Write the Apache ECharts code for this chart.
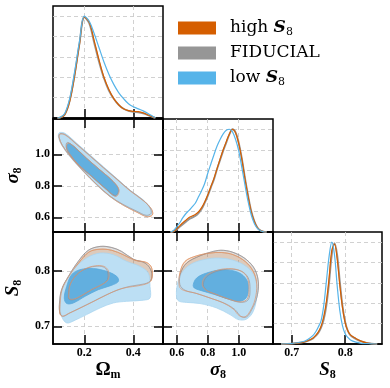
<!DOCTYPE html>
<html><head><meta charset="utf-8">
<script src="https://cdn.jsdelivr.net/npm/echarts@6/dist/echarts.min.js"></script>
<style>html,body{margin:0;padding:0;background:#fff}#c{width:390px;height:388px}</style>
</head><body><div id="c"></div>
<script>
// ---------------- DATA ----------------
const legendNames = ['high S8', 'FIDUCIAL', 'low S8'];
const omTicks = [0.2, 0.4];
const sigTicks = [0.6, 0.8, 1.0];
const s8Ticks = [0.7, 0.8];
const densTicks = [0.2, 0.4, 0.6, 0.8, 1.0];

const omGrid = [0.09,0.10,0.12,0.14,0.16,0.18,0.20,0.22,0.24,0.26,0.28,0.30,0.32,0.34,0.36,0.38,0.40,0.42,0.44,0.46,0.48,0.49];
const omFid  = [0,0.003,0.035,0.17,0.42,0.73,0.99,0.93,0.74,0.55,0.39,0.27,0.19,0.13,0.09,0.07,0.06,0.055,0.045,0.028,0.008,0];
const omHigh = [0,0.002,0.032,0.16,0.41,0.72,0.99,0.94,0.76,0.57,0.40,0.28,0.19,0.13,0.09,0.072,0.065,0.062,0.05,0.03,0.01,0];
const omLow  = [0,0.005,0.045,0.19,0.45,0.75,1.0,0.95,0.83,0.69,0.55,0.43,0.33,0.25,0.19,0.14,0.11,0.09,0.07,0.045,0.015,0.003];

const sigGrid = [0.56,0.58,0.60,0.62,0.64,0.66,0.68,0.70,0.72,0.74,0.76,0.78,0.80,0.82,0.84,0.86,0.88,0.90,0.92,0.94,0.96,0.98,1.00,1.02,1.04,1.06,1.08,1.10,1.12,1.14,1.16,1.18];
const sigFid  = [0,0.005,0.025,0.05,0.075,0.10,0.125,0.14,0.155,0.18,0.22,0.28,0.35,0.43,0.51,0.61,0.70,0.79,0.87,0.95,1.0,0.97,0.87,0.72,0.53,0.36,0.21,0.11,0.045,0.015,0.003,0];
const sigHigh = [0,0.006,0.03,0.06,0.09,0.115,0.14,0.155,0.17,0.195,0.235,0.29,0.36,0.44,0.52,0.615,0.71,0.80,0.88,0.955,1.0,0.965,0.86,0.71,0.52,0.35,0.20,0.105,0.043,0.014,0.003,0];
const sigLow  = [0,0.015,0.05,0.09,0.14,0.18,0.21,0.245,0.28,0.34,0.40,0.47,0.57,0.66,0.75,0.835,0.90,0.955,0.99,1.0,0.975,0.90,0.79,0.63,0.46,0.30,0.17,0.085,0.035,0.012,0.002,0];

const s8Grid = [0.68,0.70,0.72,0.73,0.74,0.745,0.75,0.755,0.76,0.765,0.77,0.775,0.78,0.785,0.79,0.795,0.80,0.805,0.81,0.82,0.83,0.84,0.85,0.86];
const s8Fid  = [0,0.004,0.015,0.03,0.055,0.08,0.11,0.16,0.24,0.38,0.60,0.87,0.99,0.88,0.62,0.38,0.22,0.13,0.085,0.05,0.025,0.01,0.003,0];
const s8High = [0,0.004,0.016,0.032,0.06,0.085,0.12,0.175,0.27,0.42,0.65,0.92,0.98,0.84,0.58,0.36,0.21,0.13,0.09,0.055,0.028,0.012,0.004,0];
const s8Low  = [0,0.005,0.022,0.045,0.085,0.12,0.17,0.23,0.38,0.62,0.86,1.0,0.88,0.58,0.33,0.18,0.10,0.065,0.04,0.018,0.007,0.003,0.001,0];

const omSigFidOuter  = [[0.100,1.130],[0.122,1.125],[0.170,1.063],[0.224,0.990],[0.278,0.916],[0.333,0.843],[0.387,0.770],[0.440,0.708],[0.468,0.660],[0.472,0.625],[0.452,0.613],[0.413,0.640],[0.358,0.682],[0.304,0.736],[0.250,0.810],[0.196,0.895],[0.143,0.988],[0.110,1.058],[0.097,1.108]];
const omSigHighOuter = [[0.100,1.128],[0.122,1.122],[0.170,1.060],[0.224,0.987],[0.278,0.913],[0.333,0.840],[0.388,0.766],[0.443,0.703],[0.474,0.652],[0.478,0.616],[0.456,0.604],[0.415,0.632],[0.360,0.676],[0.305,0.732],[0.250,0.808],[0.196,0.893],[0.143,0.986],[0.110,1.056],[0.097,1.106]];
const omSigLowOuter  = [[0.098,1.137],[0.121,1.133],[0.169,1.070],[0.223,0.996],[0.278,0.921],[0.332,0.847],[0.386,0.773],[0.441,0.710],[0.471,0.657],[0.475,0.621],[0.454,0.608],[0.414,0.636],[0.359,0.678],[0.305,0.731],[0.250,0.805],[0.196,0.890],[0.141,0.985],[0.107,1.059],[0.094,1.112]];
const omSigFidInner  = [[0.130,1.075],[0.160,1.046],[0.208,0.976],[0.263,0.902],[0.317,0.828],[0.340,0.776],[0.327,0.738],[0.285,0.786],[0.231,0.860],[0.176,0.934],[0.142,0.998],[0.126,1.042]];
const omSigHighInner = [[0.133,1.072],[0.161,1.045],[0.209,0.975],[0.264,0.901],[0.319,0.826],[0.342,0.772],[0.329,0.733],[0.286,0.782],[0.232,0.857],[0.177,0.932],[0.143,0.996],[0.128,1.040]];
const omSigLowInner  = [[0.135,1.070],[0.162,1.044],[0.209,0.974],[0.264,0.900],[0.318,0.826],[0.339,0.773],[0.325,0.735],[0.284,0.784],[0.230,0.858],[0.175,0.932],[0.141,0.996],[0.128,1.038]];

const omS8FidOuter  = [[0.098,0.739],[0.107,0.766],[0.135,0.790],[0.175,0.817],[0.216,0.837],[0.264,0.844],[0.312,0.842],[0.352,0.835],[0.400,0.821],[0.448,0.814],[0.471,0.802],[0.475,0.787],[0.461,0.779],[0.427,0.775],[0.386,0.772],[0.346,0.767],[0.291,0.757],[0.237,0.745],[0.182,0.733],[0.141,0.724],[0.114,0.718],[0.101,0.723]];
const omS8HighOuter = [[0.101,0.739],[0.109,0.766],[0.137,0.790],[0.178,0.815],[0.219,0.834],[0.264,0.839],[0.312,0.837],[0.359,0.829],[0.407,0.819],[0.454,0.815],[0.475,0.805],[0.475,0.785],[0.461,0.778],[0.420,0.773],[0.373,0.770],[0.332,0.765],[0.284,0.755],[0.230,0.743],[0.175,0.731],[0.135,0.723],[0.111,0.718],[0.101,0.722]];
const omS8LowOuter  = [[0.101,0.742],[0.107,0.763],[0.128,0.784],[0.162,0.805],[0.209,0.823],[0.264,0.832],[0.318,0.829],[0.373,0.817],[0.427,0.808],[0.461,0.796],[0.468,0.772],[0.468,0.751],[0.441,0.747],[0.373,0.745],[0.318,0.742],[0.264,0.733],[0.209,0.721],[0.162,0.711],[0.128,0.706],[0.107,0.718]];
const omS8FidInner  = [[0.135,0.757],[0.141,0.775],[0.169,0.793],[0.203,0.803],[0.243,0.808],[0.277,0.807],[0.294,0.799],[0.294,0.784],[0.271,0.775],[0.230,0.766],[0.189,0.755],[0.155,0.748],[0.137,0.749]];
const omS8HighInner = [[0.137,0.758],[0.143,0.776],[0.171,0.794],[0.205,0.804],[0.245,0.809],[0.280,0.808],[0.298,0.800],[0.298,0.785],[0.275,0.776],[0.233,0.767],[0.191,0.756],[0.157,0.749],[0.139,0.750]];
const omS8LowInner  = [[0.118,0.751],[0.128,0.772],[0.148,0.793],[0.182,0.802],[0.237,0.804],[0.291,0.799],[0.332,0.790],[0.339,0.781],[0.312,0.774],[0.257,0.766],[0.203,0.754],[0.155,0.742],[0.128,0.741]];

const sigS8FidOuter  = [[0.621,0.775],[0.626,0.796],[0.664,0.814],[0.750,0.827],[0.836,0.835],[0.901,0.837],[0.976,0.832],[1.051,0.820],[1.105,0.802],[1.127,0.778],[1.116,0.751],[1.084,0.730],[1.051,0.717],[1.013,0.718],[0.976,0.730],[0.912,0.741],[0.815,0.751],[0.729,0.759],[0.654,0.765]];
const sigS8HighOuter = [[0.617,0.772],[0.621,0.796],[0.654,0.817],[0.729,0.827],[0.815,0.832],[0.890,0.833],[0.965,0.829],[1.041,0.817],[1.094,0.799],[1.116,0.775],[1.105,0.748],[1.073,0.727],[1.041,0.717],[1.004,0.719],[0.965,0.731],[0.901,0.742],[0.804,0.752],[0.718,0.760],[0.643,0.765]];
const sigS8LowOuter  = [[0.600,0.751],[0.604,0.775],[0.632,0.796],[0.686,0.811],[0.772,0.820],[0.879,0.823],[0.987,0.817],[1.073,0.802],[1.112,0.781],[1.116,0.754],[1.094,0.727],[1.051,0.713],[0.998,0.712],[0.944,0.721],[0.858,0.733],[0.750,0.741],[0.664,0.743],[0.617,0.745]];
const sigS8FidInner  = [[0.772,0.775],[0.793,0.789],[0.858,0.799],[0.944,0.803],[1.019,0.799],[1.062,0.787],[1.073,0.766],[1.062,0.748],[1.019,0.743],[0.944,0.748],[0.858,0.757],[0.793,0.765]];
const sigS8HighInner = [[0.765,0.776],[0.785,0.790],[0.850,0.800],[0.936,0.804],[1.012,0.800],[1.055,0.788],[1.066,0.767],[1.055,0.749],[1.012,0.744],[0.936,0.749],[0.850,0.758],[0.785,0.766]];
const sigS8LowInner  = [[0.707,0.775],[0.729,0.787],[0.793,0.796],[0.901,0.802],[0.998,0.797],[1.051,0.784],[1.062,0.766],[1.047,0.751],[1.004,0.745],[0.933,0.749],[0.847,0.757],[0.750,0.765],[0.714,0.769]];

// ---------------- STYLE / LAYOUT ----------------
const COL = {'high S8':'#D55E00', 'FIDUCIAL':'#969696', 'low S8':'#56B4E9'};
const OM_X = [0.072, 0.521], SIG_X = [0.512, 1.221], SIG_Y = [0.507, 1.224];
const S8_X = [0.665, 0.869], S8_Y = [0.668, 0.870], DENS = [0, 1.1];
const SERIF = 'Liberation Serif';

function tick(vals){ return {show:true, inside:true, length:9, customValues:vals.slice(), lineStyle:{color:'#000', width:1.5}}; }
function split(){ return {show:true, lineStyle:{color:'#cccccc', type:[4,3], width:0.9}}; }
function lbl(vals){ return {show:true, customValues:vals.slice(), fontFamily:SERIF, fontWeight:'bold', fontSize:12, color:'#000', margin:3,
             formatter:v=>Number(v).toFixed(1)}; }
function line(){ return {show:true, onZero:false, lineStyle:{color:'#000', width:1.5}}; }

function nameRich(){ return {
  up:{fontFamily:SERIF, fontWeight:'bold', fontSize:19, color:'#000'},
  it:{fontFamily:SERIF, fontWeight:'bold', fontStyle:'italic', fontSize:19, color:'#000'},
  sub:{fontFamily:SERIF, fontWeight:'bold', fontSize:12, color:'#000', padding:[10,0,0,0]}
};}

function axis(grid, pos, rng, vals, o) {
  return Object.assign({
    type:'value', gridIndex:grid, position:pos, min:rng[0], max:rng[1],
    axisLine:line(), axisTick:tick(vals), axisLabel:{show:false}, splitLine:{show:false}
  }, o || {});
}

const xAxis = [
  axis(0,'bottom',OM_X,omTicks,{splitLine:split()}),
  axis(1,'bottom',OM_X,omTicks,{splitLine:split()}),
  axis(1,'top',OM_X,omTicks),
  axis(2,'bottom',SIG_X,sigTicks,{splitLine:split()}),
  axis(3,'bottom',OM_X,omTicks,{splitLine:split(), axisLabel:lbl(omTicks),
      name:'{up|Ω}{sub|m}', nameLocation:'middle', nameGap:15, nameTextStyle:{rich:nameRich()}}),
  axis(3,'top',OM_X,omTicks),
  axis(4,'bottom',SIG_X,sigTicks,{splitLine:split(), axisLabel:lbl(sigTicks),
      name:'{it|σ}{sub|8}', nameLocation:'middle', nameGap:15, nameTextStyle:{rich:nameRich()}}),
  axis(4,'top',SIG_X,sigTicks),
  axis(5,'bottom',S8_X,s8Ticks,{splitLine:split(), axisLabel:lbl(s8Ticks),
      name:'{it|S}{sub|8}', nameLocation:'middle', nameGap:15, nameTextStyle:{rich:nameRich()}})
];
function densAxis(grid) {
  return {type:'value', gridIndex:grid, min:DENS[0], max:DENS[1],
    axisLine:{show:false}, axisTick:{show:false, customValues:densTicks.slice()}, axisLabel:{show:false}, splitLine:split()};
}
const yAxis = [
  densAxis(0),
  axis(1,'left',SIG_Y,sigTicks,{splitLine:split(), axisLabel:lbl(sigTicks),
      name:'{it|σ}{sub|8}', nameLocation:'middle', nameGap:29, nameTextStyle:{rich:nameRich()}}),
  axis(1,'right',SIG_Y,sigTicks),
  densAxis(2),
  axis(3,'left',S8_Y,s8Ticks,{splitLine:split(), axisLabel:lbl(s8Ticks),
      name:'{it|S}{sub|8}', nameLocation:'middle', nameGap:29, nameTextStyle:{rich:nameRich()}}),
  axis(3,'right',S8_Y,s8Ticks),
  axis(4,'left',S8_Y,s8Ticks,{splitLine:split()}),
  axis(4,'right',S8_Y,s8Ticks),
  densAxis(5)
];

const gridBoxes = [
  {left:53, top:6, width:110, height:112},
  {left:53, top:119, width:110, height:113},
  {left:163, top:119, width:110, height:113},
  {left:53, top:232, width:110, height:112},
  {left:163, top:232, width:110, height:112},
  {left:273, top:232, width:109, height:112}
];

const FILL = {
  'FIDUCIAL': {outer:{fill:'rgba(150,150,150,0.3)', stroke:'rgba(140,140,140,0.6)', lineWidth:0.9},
               inner:{fill:'rgba(130,130,130,0.4)', stroke:'rgba(130,130,130,0.6)', lineWidth:0.9}},
  'high S8':  {outer:{fill:'rgba(213,94,0,0.16)', stroke:'rgba(213,94,0,0.4)', lineWidth:0.9},
               inner:{fill:'rgba(213,94,0,0.25)', stroke:'rgba(213,94,0,0.4)', lineWidth:0.9}},
  'low S8':   {outer:{fill:'#BCDFF4', stroke:'#ABD5F0', lineWidth:0.8},
               inner:{fill:'#62AFDF', stroke:'#5BAADC', lineWidth:0.8}}
};
const EDGE = {
  'FIDUCIAL': {fill:null, stroke:'rgba(150,140,140,0.6)', lineWidth:1},
  'high S8':  {fill:null, stroke:'rgba(222,150,110,0.7)', lineWidth:1}
};
const ZORD = {'FIDUCIAL':2, 'high S8':3, 'low S8':4};

function poly(name, pts, xi, yi, style, z) {
  return {type:'custom', name:name, xAxisIndex:xi, yAxisIndex:yi, z:z, silent:true, animation:false,
    itemStyle:{color:COL[name]}, data:pts,
    renderItem:function(params, api){
      if (params.dataIndex !== 0) return null;
      return {type:'polygon', shape:{points:pts.map(p=>api.coord(p)), smooth:0.35}, style:style};
    }};
}
function dens(name, xs, ys, xi, yi, width, z) {
  return {type:'line', name:name, xAxisIndex:xi, yAxisIndex:yi, z:z, silent:true, animation:false,
    data:xs.map((x,i)=>[x, ys[i]]), smooth:0.35, symbol:'none', showSymbol:false,
    lineStyle:{color:COL[name], width:width}, itemStyle:{color:COL[name]}};
}

const panels2d = [
  {xi:1, yi:1, sets:{'FIDUCIAL':[omSigFidOuter,omSigFidInner], 'high S8':[omSigHighOuter,omSigHighInner], 'low S8':[omSigLowOuter,omSigLowInner]}},
  {xi:4, yi:4, sets:{'FIDUCIAL':[omS8FidOuter,omS8FidInner], 'high S8':[omS8HighOuter,omS8HighInner], 'low S8':[omS8LowOuter,omS8LowInner]}},
  {xi:6, yi:6, sets:{'FIDUCIAL':[sigS8FidOuter,sigS8FidInner], 'high S8':[sigS8HighOuter,sigS8HighInner], 'low S8':[sigS8LowOuter,sigS8LowInner]}}
];

const series = [];
['high S8','FIDUCIAL','low S8'].forEach(n=>{
  panels2d.forEach(p=>{
    series.push(poly(n, p.sets[n][0], p.xi, p.yi, FILL[n].outer, ZORD[n]));
    series.push(poly(n, p.sets[n][1], p.xi, p.yi, FILL[n].inner, ZORD[n]));
  });
});
['FIDUCIAL','high S8'].forEach(n=>{
  panels2d.forEach(p=>{
    series.push(poly(n, p.sets[n][0], p.xi, p.yi, EDGE[n], 5));
    series.push(poly(n, p.sets[n][1], p.xi, p.yi, EDGE[n], 5));
  });
});
[[omGrid,omFid,omHigh,omLow,0,0],[sigGrid,sigFid,sigHigh,sigLow,3,3],[s8Grid,s8Fid,s8High,s8Low,8,8]].forEach(d=>{
  series.push(dens('FIDUCIAL', d[0], d[1], d[4], d[5], 1.8, 6));
  series.push(dens('high S8', d[0], d[2], d[4], d[5], 1.2, 7));
  series.push(dens('low S8', d[0], d[3], d[4], d[5], 1.2, 8));
});

const legendLabels = {'high S8':'high {i|S}{s|8}', 'FIDUCIAL':'FIDUCIAL', 'low S8':'low {i|S}{s|8}'};

const chart = echarts.init(document.getElementById('c'), null, {renderer:'canvas', width:390, height:388});
chart.setOption({
  animation:false,
  backgroundColor:'#fff',
  grid: gridBoxes.map(g=>Object.assign({show:true, borderColor:'#000', borderWidth:1.5,
        backgroundColor:'transparent', outerBoundsMode:'none'}, g)),
  xAxis: xAxis,
  yAxis: yAxis,
  legend: {
    orient:'vertical', left:178, top:18, padding:0, itemWidth:38, itemHeight:13, itemGap:5,
    selectedMode:false,
    data: legendNames.map(n=>({name:n, icon:'rect', itemStyle:{color:COL[n], borderWidth:0}})),
    formatter: n=>legendLabels[n],
    textStyle:{fontFamily:'DejaVu Serif', fontSize:17, color:'#000', lineHeight:20, padding:[0,0,0,9],
      rich:{
        i:{fontFamily:'DejaVu Serif', fontStyle:'italic', fontWeight:'bold', fontSize:17, color:'#000', lineHeight:20},
        s:{fontFamily:'DejaVu Serif', fontSize:11, color:'#000', padding:[8,0,0,0], lineHeight:20}
      }}
  },
  series: series
});
</script>
</body></html>
